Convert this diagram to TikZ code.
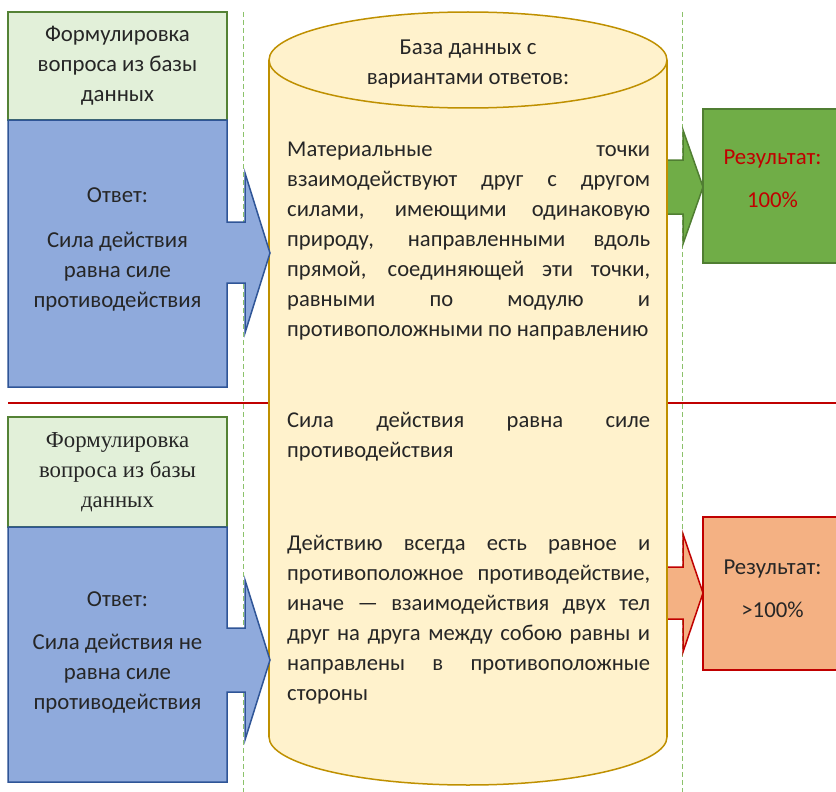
\documentclass[tikz,border=0pt]{standalone}
\usepackage{fontspec}
\setmainfont{Carlito}
\newfontfamily\serifface{Liberation Serif}
\usetikzlibrary{positioning}
\hyphenpenalty=10000

\definecolor{qfill}{HTML}{E2F0D9}
\definecolor{qline}{HTML}{548235}
\definecolor{afill}{HTML}{8FAADC}
\definecolor{aline}{HTML}{2F5597}
\definecolor{dbfill}{HTML}{FFF2CC}
\definecolor{dbline}{HTML}{BF9000}
\definecolor{okfill}{HTML}{70AD47}
\definecolor{okline}{HTML}{507E32}
\definecolor{badfill}{HTML}{F4B183}
\definecolor{redline}{HTML}{C00000}
\definecolor{guidegreen}{HTML}{8CC26B}
\definecolor{txt}{HTML}{262626}

\tikzset{
    %Define style for question boxes
    questbox/.style={
           rectangle,
           draw=qline, line width=1.5pt,
           fill=qfill,
           minimum width=219pt,
           minimum height=108pt,
           inner sep=0pt, outer sep=0pt,
           align=center,
           text=txt,
           font=\fontsize{22.8}{30}\selectfont},
 %
    answerbody/.style={
           rectangle,
           minimum width=219pt,
           inner sep=0pt, outer sep=0pt,
           align=center,
           text=txt,
           font=\fontsize{22.8}{30}\selectfont},
 %
    answercall/.style={
           draw=aline, line width=1.5pt,
           fill=afill},
 %
    resultbox/.style={
           rectangle,
           line width=1.5pt,
           minimum width=139pt,
           minimum height=154pt,
           inner sep=0pt, outer sep=0pt},
 %
    resulttext/.style={
           inner sep=0pt,
           align=center,
           font=\fontsize{22.8}{30}\selectfont},
 %
    optiontext/.style={
           anchor=north west,
           inner sep=0pt,
           text width=363pt,
           align=justify,
           text=txt,
           font=\fontsize{22.6}{30}\selectfont},
 %
    % Define line styles
    guide/.style={
           draw=guidegreen, line width=0.9pt,
           dash pattern=on 5pt off 3pt},
    divider/.style={
           draw=redline, line width=2pt}
}

\begin{document}
\begin{tikzpicture}[x=1pt, y=-1pt, line join=miter]
  \clip (0,0) rectangle (836,792);

  % guide lines and divider
  \coordinate (gl top) at (243,12);
  \coordinate (gl bot) at (243,792);
  \coordinate (gr top) at (682,12);
  \coordinate (gr bot) at (682,792);
  \coordinate (div l) at (8,403);
  \coordinate (div r) at (836,403);
  \draw[guide] (gl top) -- (gl bot);
  \draw[guide] (gr top) -- (gr bot);
  \draw[divider] (div l) -- (div r);

  % arrows to the results
  \draw[draw=okline, line width=1.5pt, fill=okfill]
    (660,160) -- (683,160) -- ++(0,-30) -- (703,187) -- (683,244) -- ++(0,-30) -- (660,214) -- cycle;
  \draw[draw=redline, line width=1.5pt, fill=badfill]
    (660,567) -- (683,567) -- ++(0,-33) -- (703,593) -- (683,652) -- ++(0,-33) -- (660,619) -- cycle;

  % database cylinder
  \draw[draw=dbline, line width=1.5pt, fill=dbfill] (468,737) ellipse [x radius=199, y radius=48];
  \fill[dbfill] (269,60) rectangle (667,737);
  \draw[draw=dbline, line width=1.5pt] (269,60) -- (269,737);
  \draw[draw=dbline, line width=1.5pt] (667,60) -- (667,737);
  \draw[draw=dbline, line width=1.5pt, fill=dbfill] (468,60) ellipse [x radius=199, y radius=48];

  \node[align=center, inner sep=0pt, text=txt, font=\fontsize{22.8}{30}\selectfont] (dbhead) at (468,64)
    {База данных с\\вариантами ответов:};

  \node[optiontext] (opt1) at (287,142) {Материальные точки\linebreak
    взаимодействуют друг с другом\linebreak
    силами, имеющими одинаковую\linebreak
    природу, направленными вдоль\linebreak
    прямой, соединяющей эти точки,\linebreak
    равными по модулю и\linebreak
    противоположными по направлению};
  \node[optiontext] (opt2) at (287,412) {Сила действия равна силе\linebreak
    противодействия};
  \node[optiontext] (opt3) at (287,535) {Действию всегда есть равное и\linebreak
    противоположное противодействие,\linebreak
    иначе — взаимодействия двух тел\linebreak
    друг на друга между собою равны и\linebreak
    направлены в противоположные\linebreak
    стороны};

  % first question
  \node[questbox] (q1) at (117.5,66) {Формулировка\\вопроса из базы\\данных};
  \node[answerbody, below=0pt of q1, minimum height=267pt] (a1) {};
  \draw[answercall] (a1.north west) -- (a1.north east) -- ++(0,102) -- ++(18,0) -- ++(0,-49)
    -- ++(25,80) -- ++(-25,80) -- ++(0,-50) -- ++(-18,0) |- (a1.south west) -- cycle;
  \node[answerbody] (a1text) at ([yshift=4pt]a1.center) {Ответ:\\[15pt]Сила действия\\равна силе\\противодействия};

  % second question
  \node[questbox, font=\serifface\fontsize{22.8}{30}\selectfont, minimum height=110pt] (q2) at (117.5,472)
    {Формулировка\\вопроса из базы\\данных};
  \node[answerbody, below=0pt of q2, minimum height=255pt] (a2) {};
  \draw[answercall] (a2.north west) -- (a2.north east) -- ++(0,101) -- ++(18,0) -- ++(0,-48)
    -- ++(25,80) -- ++(-25,80) -- ++(0,-48) -- ++(-18,0) |- (a2.south west) -- cycle;
  \node[answerbody] (a2text) at ([yshift=2pt]a2.center) {Ответ:\\[13pt]Сила действия не\\равна силе\\противодействия};

  % results
  \node[resultbox, draw=okline, fill=okfill] (ok1) at (772.5,186) {};
  \node[resulttext, text=redline] (ok1text) at ([yshift=7pt]ok1.center) {Результат:\\[13pt]100\%};
  \node[resultbox, draw=redline, fill=badfill, minimum height=153pt] (bad1) at (772.5,593.5) {};
  \node[resulttext, text=txt] (bad1text) at ([yshift=5pt]bad1.center) {Результат:\\[13pt]>100\%};
\end{tikzpicture}
\end{document}
